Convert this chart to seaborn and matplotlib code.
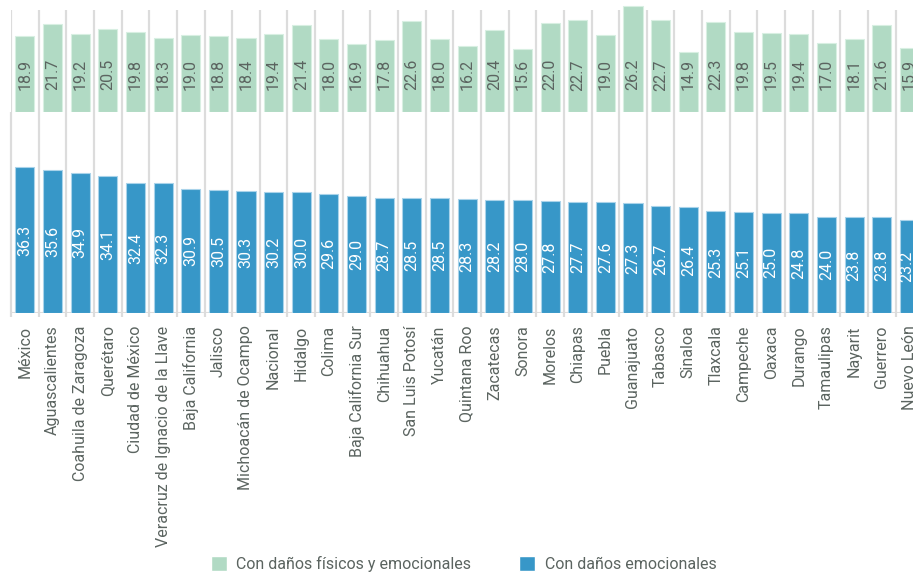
import matplotlib
matplotlib.use("Agg")
import matplotlib.pyplot as plt
from matplotlib.patches import Patch
import seaborn as sns
import pandas as pd

# Data
estados = ["México", "Aguascalientes", "Coahuila de Zaragoza", "Querétaro",
           "Ciudad de México", "Veracruz de Ignacio de la Llave", "Baja California",
           "Jalisco", "Michoacán de Ocampo", "Nacional", "Hidalgo", "Colima",
           "Baja California Sur", "Chihuahua", "San Luis Potosí", "Yucatán",
           "Quintana Roo", "Zacatecas", "Sonora", "Morelos", "Chiapas", "Puebla",
           "Guanajuato", "Tabasco", "Sinaloa", "Tlaxcala", "Campeche", "Oaxaca",
           "Durango", "Tamaulipas", "Nayarit", "Guerrero", "Nuevo León"]
fisicos_emocionales = [18.9, 21.7, 19.2, 20.5, 19.8, 18.3, 19.0, 18.8, 18.4, 19.4,
                       21.4, 18.0, 16.9, 17.8, 22.6, 18.0, 16.2, 20.4, 15.6, 22.0,
                       22.7, 19.0, 26.2, 22.7, 14.9, 22.3, 19.8, 19.5, 19.4, 17.0,
                       18.1, 21.6, 15.9]
emocionales = [36.3, 35.6, 34.9, 34.1, 32.4, 32.3, 30.9, 30.5, 30.3, 30.2, 30.0,
               29.6, 29.0, 28.7, 28.5, 28.5, 28.3, 28.2, 28.0, 27.8, 27.7, 27.6,
               27.3, 26.7, 26.4, 25.3, 25.1, 25.0, 24.8, 24.0, 23.8, 23.8, 23.2]

df = pd.DataFrame({"estado": estados, "fis": fisicos_emocionales, "emo": emocionales})

verde = "#b1dac4"
azul = "#3797c8"
gris_txt = "#5b6460"
gris_linea = "#dcdcdc"

sns.set_style("white")
plt.rcParams["font.family"] = ["Roboto", "DejaVu Sans"]

W, H = 913, 573
fig = plt.figure(figsize=(W / 100, H / 100), dpi=100)
left = 11 / W
width = 902 / W
ax_top = fig.add_axes([left, (H - 112) / H, width, 112 / H])
ax_bot = fig.add_axes([left, (H - 313) / H, width, 201 / H])

sns.barplot(data=df, x="estado", y="fis", ax=ax_top, color=verde, width=0.69,
            edgecolor="#d8efe2", linewidth=0.8, saturation=1, zorder=3)
sns.barplot(data=df, x="estado", y="emo", ax=ax_bot, color=azul, width=0.69,
            edgecolor="#a9d3ea", linewidth=0.8, saturation=1, zorder=3)

# the reference is cropped on the right, Nuevo León is only partly visible
xmax = 32.13
for ax in (ax_top, ax_bot):
    ax.set_xlim(-0.5, xmax)
    for s in ax.spines.values():
        s.set_visible(False)
    ax.set_xlabel("")
    ax.set_ylabel("")
    ax.set_yticks([])
    ax.tick_params(length=0)

ax_top.set_ylim(0, 27.7)
ax_bot.set_ylim(0, 50)

# vertical separators between categories
bounds = [i - 0.5 for i in range(len(estados) + 1)]
ax_top.vlines(bounds, 0, 25.2, color=gris_linea, lw=1.6, zorder=1)
ax_bot.vlines(bounds, -1, 50, color=gris_linea, lw=1.6, zorder=1, clip_on=False)
ax_bot.axhline(0, color=gris_linea, lw=1.5, zorder=2)

# value labels
for i, v in enumerate(fisicos_emocionales):
    ax_top.text(i, 9.2, f"{v:.1f}", rotation=90, ha="center", va="center",
                color=gris_txt, fontsize=11.5, zorder=4)
ax_bot.bar_label(ax_bot.containers[0], fmt="%.1f", label_type="center",
                 rotation=90, color="white", fontsize=11.5)

ax_top.set_xticks([])
ax_bot.set_xticks(range(len(estados)))
ax_bot.set_xticklabels(estados, rotation=90, color=gris_txt, fontsize=11.5)
ax_bot.tick_params(axis="x", pad=9)

handles = [Patch(facecolor=verde, label="Con daños físicos y emocionales"),
           Patch(facecolor=azul, label="Con daños emocionales")]
fig.legend(handles=handles, loc="center", bbox_to_anchor=(0.508, 0.016), ncol=2,
           frameon=False, fontsize=11.5, handlelength=1.0, handleheight=1.0,
           columnspacing=3.0, handletextpad=0.6, labelcolor=gris_txt)

fig.savefig("out.png", dpi=100)
